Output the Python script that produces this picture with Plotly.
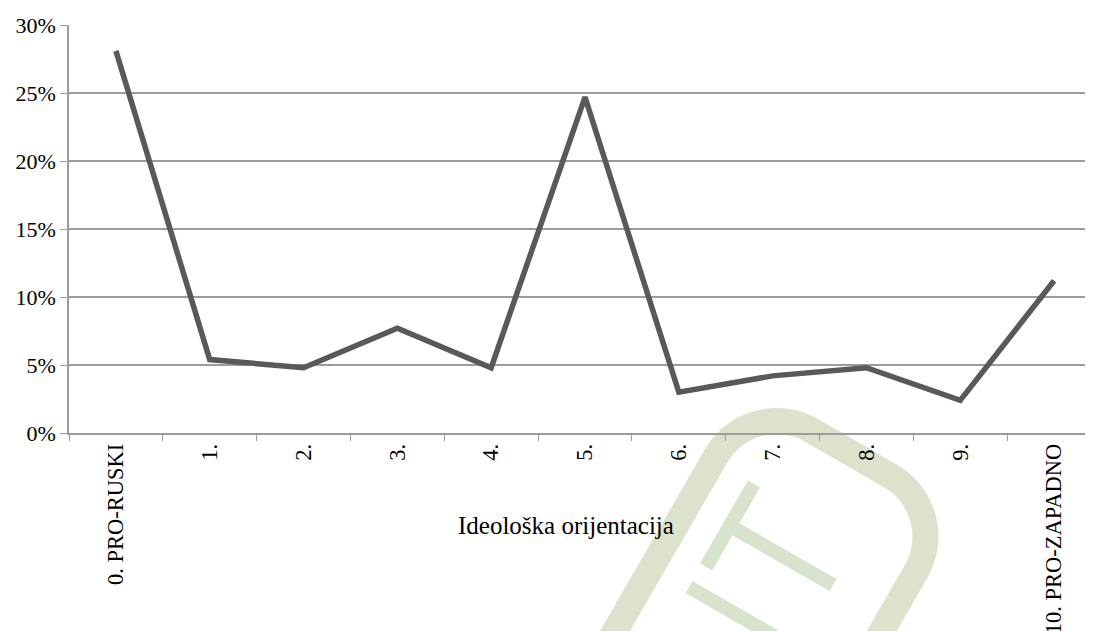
import math
import plotly.graph_objects as go

categories = ["0. PRO-RUSKI", "1.", "2.", "3.", "4.", "5.", "6.", "7.", "8.", "9.", "10. PRO-ZAPADNO"]
shares = [0.281, 0.054, 0.048, 0.077, 0.048, 0.247, 0.030, 0.042, 0.048, 0.024, 0.112]
y_ticks = [0, 0.05, 0.10, 0.15, 0.20, 0.25, 0.30]
y_tick_labels = ["0%", "5%", "10%", "15%", "20%", "25%", "30%"]
x_title = "Ideološka orijentacija"

OFF = 8  # page body margin
W, H = 1093 - OFF, 631 - OFF
L, T, B = 69 - OFF, 25 - OFF, 433 - OFF  # plot area pixels (figure coords)
PW = W - L
PH = B - T

def px(x, y):
    # screenshot pixel -> paper coords
    return ((x - OFF - L) / PW, (B - (y - OFF)) / PH)

def path_from(points):
    pts = [px(x, y) for x, y in points]
    return "M " + " L ".join(f"{a:.5f},{b:.5f}" for a, b in pts)

# watermark geometry (screenshot pixel space)
O = (615, 631)
nu = (math.cos(math.radians(30)), math.sin(math.radians(30)))
nv = (0.5, -math.cos(math.radians(30)))

def loc(u, v):
    return (O[0] + u * nu[0] + v * nv[0], O[1] + u * nu[1] + v * nv[1])

Wd, Vt, r = 231, 272, 70
pts = [loc(0, -60), loc(0, Vt - r)]
for k in range(1, 21):
    a = math.pi - k * (math.pi / 2) / 20
    pts.append(loc(r + r * math.cos(a), Vt - r + r * math.sin(a)))
pts.append(loc(Wd - r, Vt))
for k in range(1, 21):
    a = math.pi / 2 - k * (math.pi / 2) / 20
    pts.append(loc(Wd - r + r * math.cos(a), Vt - r + r * math.sin(a)))
pts.append(loc(Wd, -200))

arc_color = "#dce2cb"
let_color = "#d7e3cc"
shapes = [
    dict(type="path", xref="paper", yref="paper", path=path_from(pts),
         line=dict(color=arc_color, width=26), layer="below"),
    dict(type="path", xref="paper", yref="paper", path=path_from([(706, 567), (754, 484)]),
         line=dict(color=let_color, width=14), layer="below"),
    dict(type="path", xref="paper", yref="paper", path=path_from([(732, 527), (833, 585)]),
         line=dict(color=let_color, width=14), layer="below"),
    dict(type="path", xref="paper", yref="paper", path=path_from([(689, 587), (800, 651)]),
         line=dict(color=let_color, width=14), layer="below"),
]

fig = go.Figure()
fig.add_trace(go.Scatter(
    x=categories, y=shares, mode="lines",
    line=dict(color="#595959", width=5.5),
    hoverinfo="skip", showlegend=False,
))

axis_gray = "#9c9c9c"
font = "Liberation Serif, Times New Roman, serif"

fig.update_layout(
    width=W, height=H,
    margin=dict(l=L, r=0, t=T, b=H - B, pad=0, autoexpand=False),
    paper_bgcolor="white",
    plot_bgcolor="rgba(0,0,0,0)",
    font=dict(family=font, size=22, color="black"),
    shapes=shapes,
    showlegend=False,
    xaxis=dict(
        type="category",
        categoryorder="array", categoryarray=categories,
        range=[-0.5, 10.5 - 8 / 93.8],
        tickson="boundaries",
        ticks="outside", ticklen=6, tickcolor=axis_gray, tickwidth=1,
        showline=True, linecolor=axis_gray, linewidth=1.5,
        showgrid=False, zeroline=False,
        tickangle=-90, automargin=False,
        tickfont=dict(family=font, size=22.5, color="black"),
    ),
    yaxis=dict(
        range=[0, 0.30],
        tickvals=y_ticks, ticktext=y_tick_labels,
        ticks="outside", ticklen=7, tickcolor=axis_gray, tickwidth=1,
        showline=True, linecolor=axis_gray, linewidth=1.5,
        showgrid=True, gridcolor=axis_gray, gridwidth=1.5,
        zeroline=False, automargin=False,
        tickfont=dict(family=font, size=22, color="black"),
    ),
    annotations=[dict(
        text=x_title, xref="paper", yref="paper",
        x=(566 - OFF - L) / PW, y=(B - (525 - OFF)) / PH,
        xanchor="center", yanchor="middle", showarrow=False,
        font=dict(family=font, size=25, color="black"),
    )],
)

fig.write_html("out.html")
